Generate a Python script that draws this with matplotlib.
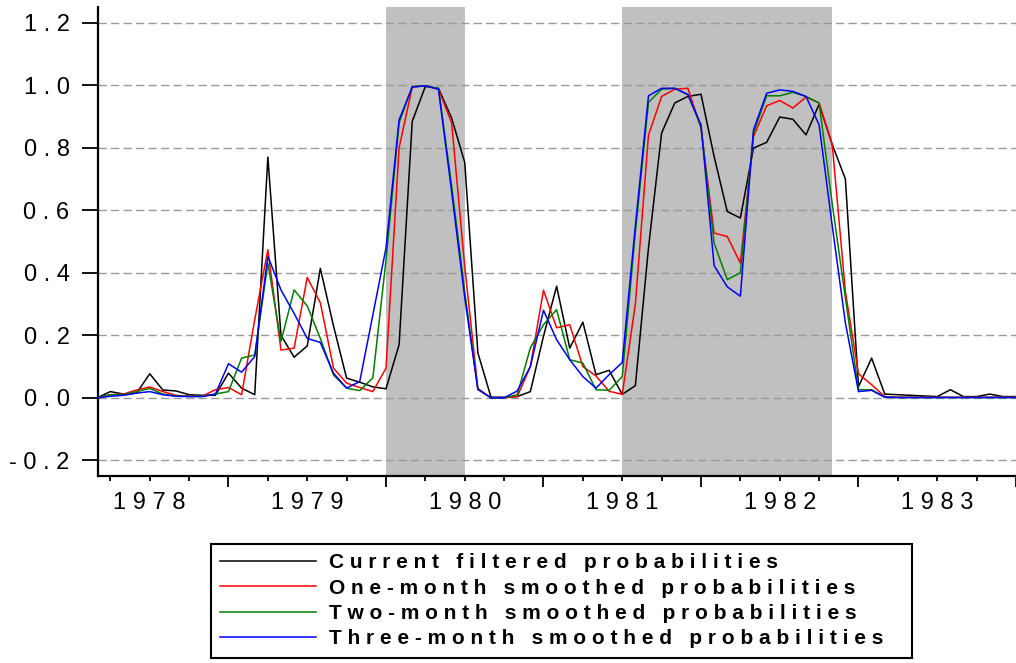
import numpy as np
import matplotlib
matplotlib.use('Agg')
import matplotlib.pyplot as plt

plt.rcParams['font.family'] = ['Liberation Sans', 'DejaVu Sans']

# monthly sample starts 1978M03
start_year = 1978
start_month = 3

filtered = [0.0, 0.02, 0.012, 0.015, 0.077, 0.025, 0.022, 0.01, 0.008, 0.008,
            0.079, 0.031, 0.01, 0.77, 0.20, 0.13, 0.166, 0.414, 0.23, 0.063,
            0.05, 0.035, 0.029, 0.17, 0.884, 0.996, 0.99, 0.895, 0.753, 0.144,
            0.002, 0.002, 0.004, 0.02, 0.197, 0.357, 0.159, 0.242, 0.074, 0.088,
            0.011, 0.039, 0.48, 0.847, 0.943, 0.964, 0.971, 0.772, 0.596, 0.575,
            0.799, 0.817, 0.898, 0.891, 0.841, 0.939, 0.81, 0.70, 0.036, 0.127,
            0.012, 0.01, 0.008, 0.006, 0.004, 0.026, 0.004, 0.004, 0.012, 0.004,
            0.004]
one_month = [0.0, 0.01, 0.012, 0.025, 0.035, 0.02, 0.008, 0.005, 0.005, 0.026,
             0.033, 0.01, 0.25, 0.474, 0.153, 0.159, 0.385, 0.304, 0.095, 0.047,
             0.033, 0.02, 0.095, 0.80, 0.994, 0.998, 0.987, 0.88, 0.42, 0.03,
             0.0, 0.0, 0.004, 0.10, 0.344, 0.224, 0.234, 0.10, 0.07, 0.021,
             0.011, 0.30, 0.84, 0.964, 0.987, 0.99, 0.863, 0.527, 0.516, 0.431,
             0.836, 0.934, 0.951, 0.927, 0.962, 0.943, 0.81, 0.34, 0.077, 0.042,
             0.004, 0.002, 0.002, 0.002, 0.002, 0.002, 0.002, 0.002, 0.002, 0.002,
             0.002]
two_month = [0.0, 0.01, 0.01, 0.02, 0.03, 0.012, 0.006, 0.005, 0.005, 0.012,
             0.02, 0.127, 0.137, 0.43, 0.18, 0.345, 0.294, 0.19, 0.073, 0.031,
             0.023, 0.064, 0.44, 0.88, 0.995, 0.998, 0.99, 0.68, 0.34, 0.027,
             0.0, 0.0, 0.01, 0.16, 0.234, 0.282, 0.122, 0.111, 0.026, 0.024,
             0.068, 0.53, 0.945, 0.987, 0.99, 0.97, 0.868, 0.495, 0.378, 0.40,
             0.847, 0.966, 0.966, 0.977, 0.964, 0.943, 0.62, 0.32, 0.026, 0.026,
             0.002, 0.001, 0.001, 0.001, 0.001, 0.001, 0.001, 0.001, 0.001, 0.001,
             0.001]
three_month = [0.0, 0.005, 0.008, 0.015, 0.02, 0.01, 0.005, 0.004, 0.004, 0.012,
               0.109, 0.082, 0.132, 0.453, 0.345, 0.27, 0.19, 0.177, 0.079, 0.031,
               0.052, 0.265, 0.479, 0.889, 0.994, 0.998, 0.987, 0.66, 0.32, 0.027,
               0.0, 0.0, 0.022, 0.10, 0.28, 0.186, 0.122, 0.068, 0.031, 0.074,
               0.113, 0.55, 0.966, 0.99, 0.99, 0.97, 0.873, 0.423, 0.355, 0.325,
               0.857, 0.974, 0.985, 0.98, 0.964, 0.873, 0.55, 0.24, 0.02, 0.024,
               0.002, 0.001, 0.001, 0.001, 0.001, 0.001, 0.001, 0.001, 0.001, 0.001,
               0.001]

# shaded recession periods (decimal years)
recessions = [(1980.0, 1980.5), (1981.5, 1982 + 10 / 12)]

years = [1978, 1979, 1980, 1981, 1982, 1983]
yticks = [-0.2, 0.0, 0.2, 0.4, 0.6, 0.8, 1.0, 1.2]
series_names = ['Current filtered probabilities',
                'One-month smoothed probabilities',
                'Two-month smoothed probabilities',
                'Three-month smoothed probabilities']
colors = ['black', 'red', 'green', 'blue']


def spaced(s):
    return ' '.join(s)


t = start_year + (start_month - 1 + np.arange(len(filtered))) / 12.0

fig = plt.figure(figsize=(10.16, 6.63), dpi=100)
ax = fig.add_axes([98 / 1016, (663 - 476) / 663, (1016 - 98) / 1016, (476 - 7) / 663])

for a, b in recessions:
    ax.axvspan(a, b, color='#c0c0c0', lw=0, zorder=1)

lines = []
for vals, c in zip([filtered, one_month, two_month, three_month], colors):
    ln, = ax.plot(t, vals, color=c, lw=1.1, zorder=3)
    lines.append(ln)

ax.set_xlim(1978.1716, 1983.963)
ax.set_ylim(-0.25, 1.25)

ax.spines['top'].set_visible(False)
ax.spines['right'].set_visible(False)
ax.spines['left'].set_linewidth(1.6)
ax.spines['bottom'].set_linewidth(1.6)

ax.set_yticks(yticks)
ax.set_yticklabels([spaced('%.1f' % v) for v in yticks], fontsize=17)
ax.tick_params(axis='y', direction='out', length=11.5, width=1.3, pad=9)
ax.yaxis.grid(True, linestyle=(0, (6, 3)), color='#9a9a9a', lw=1.0)

ax.set_xticks([y for y in years if y > 1978] + [1984])
ax.set_xticklabels([])
quarters = [y + q / 4 for y in range(1978, 1984) for q in (1, 2, 3)]
ax.set_xticks(quarters, minor=True)
ax.tick_params(axis='x', which='major', direction='out', length=8, width=1.3)
ax.tick_params(axis='x', which='minor', direction='out', length=3.8, width=1.3)

for y in years:
    ax.text(y + 0.5, -0.057, spaced(str(y)), transform=ax.get_xaxis_transform(),
            ha='center', va='center', fontsize=17, clip_on=False)

leg = fig.legend(lines, [spaced(s) for s in series_names], loc='upper left',
                 bbox_to_anchor=(210.7 / 1016, (663 - 662) / 663, 701 / 1016, 118 / 663),
                 mode='expand', borderaxespad=0,
                 fancybox=False, edgecolor='black', framealpha=1,
                 prop=dict(weight='bold', size=15), handlelength=4.6,
                 handletextpad=0.65, labelspacing=0.3, borderpad=0.45)
leg.get_frame().set_linewidth(1.5)

fig.savefig('out.png', dpi=100)
